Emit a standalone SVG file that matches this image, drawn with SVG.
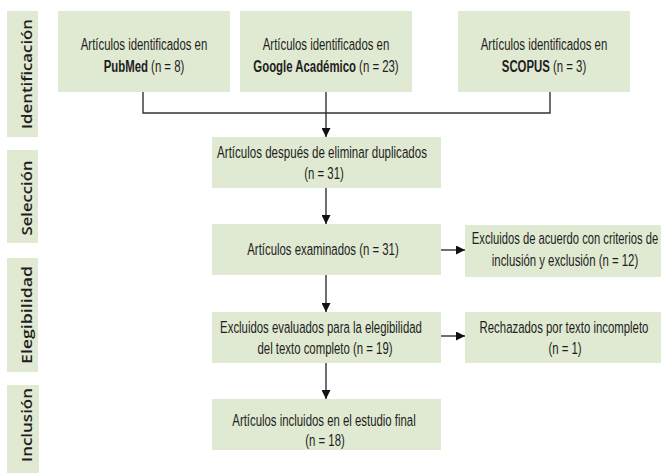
<svg xmlns="http://www.w3.org/2000/svg" width="661" height="473" viewBox="0 0 661 473">
<style>
.box{fill:#e0e9d1;}
.side{fill:#e0e9d1;}
.t{font-family:"Liberation Sans",Arial,sans-serif;font-size:17px;fill:#1e1e1e;text-anchor:middle;}
.s{font-family:"Open Sans","DejaVu Sans",sans-serif;font-size:13.5px;font-weight:600;fill:#1e1e1e;text-anchor:middle;}
.b{font-weight:bold;}
.c{stroke:#333;stroke-width:1.4;fill:none;}
</style>
<defs>
<marker id="ah" viewBox="0 0 10 10" refX="10" refY="5" markerWidth="9" markerHeight="9" markerUnits="userSpaceOnUse" orient="auto">
<path d="M0,0 L10,5 L0,10 z" fill="#111"/>
</marker>
</defs>
<rect width="661" height="473" fill="#fff"/>

<g id="side-identificacion">
<rect class="side" x="7" y="11" width="31" height="126"/>
<text class="s" transform="translate(27,74) rotate(-90)" y="5" textLength="110" lengthAdjust="spacingAndGlyphs">Identificación</text>
</g>
<g id="side-seleccion">
<rect class="side" x="7" y="150" width="31" height="93"/>
<text class="s" transform="translate(27,198) rotate(-90)" y="5" textLength="75" lengthAdjust="spacingAndGlyphs">Selección</text>
</g>
<g id="side-elegibilidad">
<rect class="side" x="7" y="258" width="31" height="114"/>
<text class="s" transform="translate(27,315) rotate(-90)" y="5" textLength="98" lengthAdjust="spacingAndGlyphs">Elegibilidad</text>
</g>
<g id="side-inclusion">
<rect class="side" x="7" y="385" width="32" height="88"/>
<text class="s" transform="translate(27,425) rotate(-90)" y="5" textLength="74" lengthAdjust="spacingAndGlyphs">Inclusión</text>
</g>

<g id="n-pubmed">
<rect class="box" x="58" y="11" width="172" height="81"/>
<text class="t" transform="translate(144,50) scale(0.67,1)">Artículos identificados en</text>
<text class="t" transform="translate(144,72) scale(0.67,1)"><tspan class="b">PubMed</tspan> (n = 8)</text>
</g>
<g id="n-google">
<rect class="box" x="240" y="11" width="172" height="81"/>
<text class="t" transform="translate(326,50) scale(0.67,1)">Artículos identificados en</text>
<text class="t" transform="translate(326,72) scale(0.67,1)"><tspan class="b">Google Académico</tspan> (n = 23)</text>
</g>
<g id="n-scopus">
<rect class="box" x="458" y="11" width="172" height="81"/>
<text class="t" transform="translate(544,50) scale(0.67,1)">Artículos identificados en</text>
<text class="t" transform="translate(544,72) scale(0.67,1)"><tspan class="b">SCOPUS</tspan> (n = 3)</text>
</g>

<g id="n-duplicados">
<rect class="box" x="212" y="137" width="229" height="51"/>
<text class="t" transform="translate(322,158) scale(0.68,1)">Artículos después de eliminar duplicados</text>
<text class="t" transform="translate(324,179) scale(0.67,1)">(n = 31)</text>
</g>
<g id="n-examinados">
<rect class="box" x="212" y="224" width="229" height="51"/>
<text class="t" transform="translate(323,255) scale(0.67,1)">Artículos examinados (n = 31)</text>
</g>
<g id="n-excluidos-criterios">
<rect class="box" x="465" y="225" width="196" height="52"/>
<text class="t" transform="translate(565,244) scale(0.66,1)">Excluidos de acuerdo con criterios de</text>
<text class="t" transform="translate(565,266) scale(0.67,1)">inclusión y exclusión (n = 12)</text>
</g>
<g id="n-elegibilidad">
<rect class="box" x="212" y="312" width="229" height="51"/>
<text class="t" transform="translate(321,333) scale(0.67,1)">Excluidos evaluados para la elegibilidad</text>
<text class="t" transform="translate(325,354) scale(0.67,1)">del texto completo (n = 19)</text>
</g>
<g id="n-rechazados">
<rect class="box" x="465" y="312" width="196" height="51"/>
<text class="t" transform="translate(564,333) scale(0.67,1)">Rechazados por texto incompleto</text>
<text class="t" transform="translate(565,354) scale(0.67,1)">(n = 1)</text>
</g>
<g id="n-incluidos">
<rect class="box" x="212" y="399" width="229" height="51"/>
<text class="t" transform="translate(324,426) scale(0.67,1)">Artículos incluidos en el estudio final</text>
<text class="t" transform="translate(325,446) scale(0.67,1)">(n = 18)</text>
</g>

<g id="connectors">
<path class="c" d="M143,92 V113 H550 V92"/>
<path class="c" d="M326,92 V137" marker-end="url(#ah)"/>
<path class="c" d="M326,188 V224" marker-end="url(#ah)"/>
<path class="c" d="M326,275 V312" marker-end="url(#ah)"/>
<path class="c" d="M326,363 V399" marker-end="url(#ah)"/>
<path class="c" d="M441,250 H465" marker-end="url(#ah)"/>
<path class="c" d="M441,336 H465" marker-end="url(#ah)"/>
</g>
</svg>
